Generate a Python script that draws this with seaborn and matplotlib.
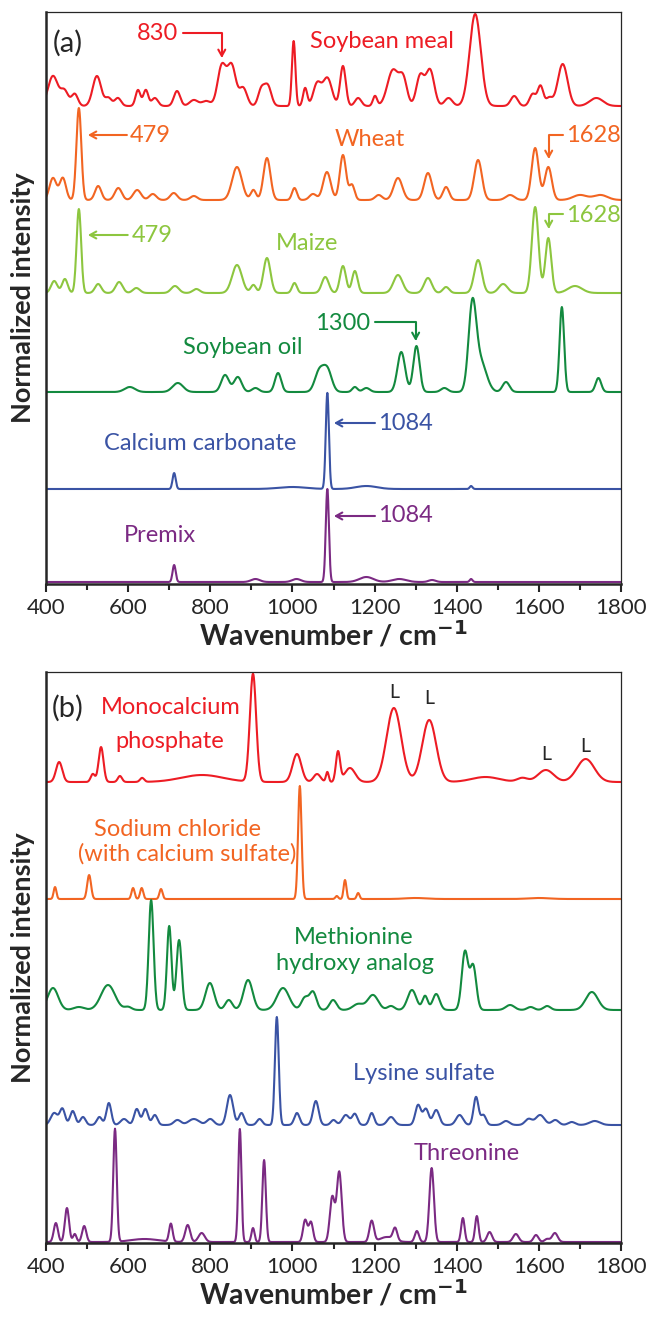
import numpy as np
import pandas as pd
import matplotlib
matplotlib.use("Agg")
import matplotlib.pyplot as plt
from matplotlib.ticker import MultipleLocator
import seaborn as sns

# ---------------- data (peaks: centre cm-1, height, FWHM) ----------------
WN_MIN, WN_MAX = 400, 1800
X_TICKS = [400, 600, 800, 1000, 1200, 1400, 1600, 1800]

NAMES_A = ["Soybean meal", "Wheat", "Maize", "Soybean oil", "Calcium carbonate", "Premix"]
COLORS_A = ["#ED1C24", "#F26522", "#8DC63F", "#138A3F", "#3A53A4", "#7B2A83"]
BASE_A = [478, 384, 291, 192, 95, 2]

SOYBEAN_MEAL = [(417, 30, 28), (445, 15, 22), (470, 12, 18), (524, 30, 24), (552, 8, 18),
                (575, 8, 18), (624, 16, 14), (643, 16, 14), (665, 8, 18), (719, 15, 18),
                (760, 6, 24), (790, 5, 24), (828, 40, 24), (852, 40, 24), (880, 18, 22),
                (924, 16, 18), (940, 20, 20), (1003, 65, 10), (1031, 18, 12), (1060, 22, 22),
                (1085, 28, 26), (1123, 40, 16), (1160, 8, 18), (1201, 10, 12), (1245, 36, 32),
                (1270, 25, 22), (1311, 30, 22), (1335, 36, 24), (1380, 8, 22), (1445, 92, 32),
                (1540, 10, 20), (1585, 12, 18), (1604, 20, 16), (1625, 8, 18), (1658, 42, 28),
                (1740, 8, 38)]
WHEAT = [(417, 22, 20), (441, 22, 18), (480, 92, 14), (527, 14, 18), (576, 12, 20),
         (622, 10, 22), (660, 6, 20), (711, 7, 20), (760, 4, 20), (865, 33, 28), (905, 10, 15),
         (938, 42, 20), (1005, 12, 14), (1050, 6, 20), (1084, 28, 22), (1123, 45, 18),
         (1145, 15, 15), (1210, 5, 20), (1257, 22, 25), (1330, 27, 22), (1374, 13, 18),
         (1452, 40, 22), (1530, 5, 25), (1591, 52, 20), (1623, 33, 20), (1700, 5, 40),
         (1750, 5, 40)]
MAIZE = [(420, 12, 18), (446, 14, 16), (480, 84, 13), (527, 9, 18), (578, 11, 20),
         (620, 5, 20), (714, 7, 22), (766, 4, 20), (865, 28, 28), (905, 8, 15), (938, 35, 20),
         (1005, 10, 14), (1080, 16, 20), (1123, 27, 17), (1152, 22, 16), (1257, 18, 26),
         (1330, 15, 22), (1374, 6, 18), (1452, 33, 22), (1513, 9, 25), (1591, 86, 19),
         (1623, 55, 17), (1688, 7, 40)]
SOYBEAN_OIL = [(604, 5, 30), (721, 9, 30), (836, 17, 22), (867, 15, 22), (910, 4, 20),
               (965, 19, 18), (1065, 20, 25), (1085, 22, 25), (1152, 5, 15), (1180, 4, 20),
               (1265, 40, 22), (1302, 46, 18), (1370, 4, 20), (1438, 82, 22), (1458, 30, 34),
               (1520, 10, 20), (1656, 85, 13), (1745, 14, 16)]
CALCIUM_CARBONATE = [(712, 16, 9), (1085, 96, 9), (1435, 3, 8), (1000, 2, 80), (1180, 3, 60)]
PREMIX = [(712, 17, 9), (1085, 93, 9), (910, 3, 25), (1010, 3, 25), (1180, 5, 40),
          (1260, 3, 40), (1340, 2, 20), (1435, 3, 8)]
PEAKS_A = [SOYBEAN_MEAL, WHEAT, MAIZE, SOYBEAN_OIL, CALCIUM_CARBONATE, PREMIX]

NAMES_B = ["Monocalcium phosphate", "Sodium chloride", "Methionine hydroxy analog",
           "Lysine sulfate", "Threonine"]
COLORS_B = ["#ED1C24", "#F26522", "#138A3F", "#3A53A4", "#7B2A83"]
BASE_B = [461, 344, 233, 118, 1]

MONOCALCIUM = [(432, 20, 18), (514, 8, 12), (534, 35, 14), (580, 6, 12), (634, 4, 12),
               (780, 7, 120), (904, 108, 18), (1011, 28, 25), (1060, 8, 20), (1085, 10, 8),
               (1111, 30, 12), (1140, 14, 30), (1247, 74, 42), (1333, 62, 40), (1470, 5, 80),
               (1560, 4, 30), (1617, 12, 45), (1714, 23, 50)]
SODIUM_CHLORIDE = [(422, 12, 8), (505, 24, 11), (612, 11, 9), (633, 11, 9), (680, 10, 9),
                   (1018, 113, 10), (1108, 3, 8), (1128, 19, 8), (1160, 6, 8), (1300, 1, 60),
                   (1600, 1, 60)]
METHIONINE = [(417, 22, 30), (480, 3, 30), (551, 25, 40), (600, 3, 20), (656, 110, 14),
              (700, 84, 13), (724, 70, 15), (799, 27, 25), (845, 10, 20), (892, 30, 26),
              (977, 22, 35), (1030, 12, 20), (1050, 18, 20), (1099, 10, 20), (1160, 6, 30),
              (1196, 15, 30), (1240, 4, 20), (1291, 20, 25), (1323, 14, 15), (1350, 16, 20),
              (1420, 58, 18), (1440, 44, 18), (1530, 5, 25), (1580, 3, 20), (1620, 4, 20),
              (1729, 18, 35)]
LYSINE = [(420, 12, 20), (440, 16, 15), (465, 14, 15), (490, 8, 15), (530, 8, 15),
          (553, 22, 14), (590, 6, 20), (621, 16, 15), (642, 16, 15), (665, 10, 15),
          (720, 5, 20), (760, 6, 30), (800, 6, 20), (848, 30, 18), (876, 12, 15), (920, 6, 15),
          (962, 108, 11), (1011, 12, 15), (1057, 24, 16), (1100, 5, 15), (1130, 10, 20),
          (1152, 11, 15), (1193, 12, 14), (1240, 8, 20), (1306, 20, 16), (1325, 16, 16),
          (1350, 15, 18), (1407, 10, 20), (1447, 28, 14), (1465, 10, 15), (1520, 4, 20),
          (1575, 6, 20), (1603, 10, 25), (1640, 5, 20), (1680, 3, 20), (1736, 4, 30)]
THREONINE = [(424, 19, 12), (451, 34, 12), (470, 8, 10), (493, 16, 12), (568, 113, 10),
             (640, 3, 80), (704, 18, 10), (745, 17, 14), (779, 9, 18), (872, 113, 9),
             (904, 14, 9), (931, 82, 10), (1031, 22, 12), (1045, 20, 12), (1097, 45, 14),
             (1114, 70, 14), (1193, 21, 13), (1230, 5, 40), (1250, 12, 12), (1303, 11, 12),
             (1339, 74, 13), (1415, 24, 10), (1449, 26, 10), (1480, 10, 14), (1544, 8, 16),
             (1593, 7, 14), (1620, 3, 14), (1639, 9, 16)]
PEAKS_B = [MONOCALCIUM, SODIUM_CHLORIDE, METHIONINE, LYSINE, THREONINE]

# ---------------- helpers ----------------
wn = np.arange(WN_MIN, WN_MAX + 0.5, 1.0)


def spectrum(base, peaks):
    y = np.full_like(wn, float(base))
    for c, h, w in peaks:
        y += h * np.exp(-4 * np.log(2) * (wn - c) ** 2 / w ** 2)
    return y


def build_frame(names, bases, peaks):
    frames = []
    for n, b, p in zip(names, bases, peaks):
        frames.append(pd.DataFrame({"wn": wn, "I": spectrum(b, p), "sample": n}))
    return pd.concat(frames, ignore_index=True)


sns.set_style("ticks")
plt.rcParams["font.family"] = ["Lato", "DejaVu Sans"]

FIG_W, FIG_H = 649, 1324
fig = plt.figure(figsize=(FIG_W / 100, FIG_H / 100), dpi=100)


def make_axes(top_px, bot_px):
    left, right = 46, 621
    return fig.add_axes([left / FIG_W, 1 - bot_px / FIG_H, (right - left) / FIG_W,
                         (bot_px - top_px) / FIG_H])


axA = make_axes(12, 584)
axB = make_axes(672, 1243)

for ax, names, bases, peaks, colors, ymax in [
        (axA, NAMES_A, BASE_A, PEAKS_A, COLORS_A, 572),
        (axB, NAMES_B, BASE_B, PEAKS_B, COLORS_B, 571)]:
    df = build_frame(names, bases, peaks)
    sns.lineplot(data=df, x="wn", y="I", hue="sample", palette=dict(zip(names, colors)),
                 estimator=None, sort=False, linewidth=1.5, legend=False, ax=ax)
    ax.set_xlim(WN_MIN, WN_MAX)
    ax.set_ylim(0, ymax)
    ax.set_yticks([])
    ax.set_xticks(X_TICKS)
    ax.xaxis.set_minor_locator(MultipleLocator(100))
    ax.tick_params(axis="x", which="major", direction="out", length=6, width=1.5,
                   labelsize=16, pad=4)
    ax.tick_params(axis="x", which="minor", direction="out", length=4, width=1.5)
    for s in ["left", "bottom"]:
        ax.spines[s].set_linewidth(1.8)
    for s in ["top", "right"]:
        ax.spines[s].set_linewidth(0.9)
        ax.spines[s].set_visible(True)
    ax.set_xlabel("Wavenumber / cm$^{\\mathbf{-1}}$", fontsize=20.5, fontweight="bold",
                  labelpad=1)
    ax.set_ylabel("Normalized intensity", fontsize=19.5, fontweight="bold", labelpad=8)

TXT = 17
arrow_kw = dict(arrowstyle="->,head_length=0.45,head_width=0.25", lw=1.5, shrinkA=0, shrinkB=0)


def straight_arrow(ax, x0, x1, y, color):
    ax.annotate("", xy=(x1, y), xytext=(x0, y),
                arrowprops=dict(color=color, **arrow_kw))


def elbow_arrow(ax, x0, y0, x1, y1, color):
    ax.annotate("", xy=(x1, y1), xytext=(x0, y0),
                arrowprops=dict(color=color, connectionstyle="angle,angleA=0,angleB=90,rad=0",
                                **arrow_kw))


# ---- panel (a) annotations ----
axA.text(454, 541, "(a)", fontsize=21, ha="center", va="center")
c = COLORS_A
axA.text(721, 551, "830", color=c[0], fontsize=TXT, ha="right", va="center")
elbow_arrow(axA, 734, 551, 828, 526, c[0])
axA.text(1218, 542, "Soybean meal", color=c[0], fontsize=TXT, ha="center", va="center")

straight_arrow(axA, 597, 502, 449, c[1])
axA.text(605, 449, "479", color=c[1], fontsize=TXT, ha="left", va="center")
axA.text(1189, 444, "Wheat", color=c[1], fontsize=TXT, ha="center", va="center")
axA.text(1666, 449, "1628", color=c[1], fontsize=TXT, ha="left", va="center")
elbow_arrow(axA, 1659, 449, 1624, 425, c[1])

straight_arrow(axA, 599, 502, 349, c[2])
axA.text(609, 349, "479", color=c[2], fontsize=TXT, ha="left", va="center")
axA.text(1035, 341, "Maize", color=c[2], fontsize=TXT, ha="center", va="center")
axA.text(1666, 368, "1628", color=c[2], fontsize=TXT, ha="left", va="center")
elbow_arrow(axA, 1659, 370, 1624, 355, c[2])

axA.text(1189, 261, "1300", color=c[3], fontsize=TXT, ha="right", va="center")
elbow_arrow(axA, 1201, 262, 1300, 243, c[3])
axA.text(880, 236, "Soybean oil", color=c[3], fontsize=TXT, ha="center", va="center")

axA.text(775, 141, "Calcium carbonate", color=c[4], fontsize=TXT, ha="center", va="center")
straight_arrow(axA, 1201, 1101, 161, c[4])
axA.text(1208, 161, "1084", color=c[4], fontsize=TXT, ha="left", va="center")

axA.text(678, 49, "Premix", color=c[5], fontsize=TXT, ha="center", va="center")
straight_arrow(axA, 1201, 1101, 68, c[5])
axA.text(1208, 68, "1084", color=c[5], fontsize=TXT, ha="left", va="center")

# ---- panel (b) annotations ----
c = COLORS_B
axB.text(454, 535, "(b)", fontsize=21, ha="center", va="center")
axB.text(704, 535, "Monocalcium", color=c[0], fontsize=TXT, ha="center", va="center")
axB.text(702, 502, "phosphate", color=c[0], fontsize=TXT, ha="center", va="center")
for lx, ly in [(1247, 550), (1333, 544), (1617, 488), (1714, 496)]:
    axB.text(lx, ly, "L", fontsize=14, ha="center", va="center")
axB.text(721, 414, "Sodium chloride", color=c[1], fontsize=TXT, ha="center", va="center")
axB.text(743, 389, "(with calcium sulfate)", color=c[1], fontsize=TXT, ha="center", va="center")
axB.text(1150, 306, "Methionine", color=c[2], fontsize=TXT, ha="center", va="center")
axB.text(1152, 280, "hydroxy analog", color=c[2], fontsize=TXT, ha="center", va="center")
axB.text(1320, 169, "Lysine sulfate", color=c[3], fontsize=TXT, ha="center", va="center")
axB.text(1425, 90, "Threonine", color=c[4], fontsize=TXT, ha="center", va="center")

fig.savefig("out.png", dpi=100)
